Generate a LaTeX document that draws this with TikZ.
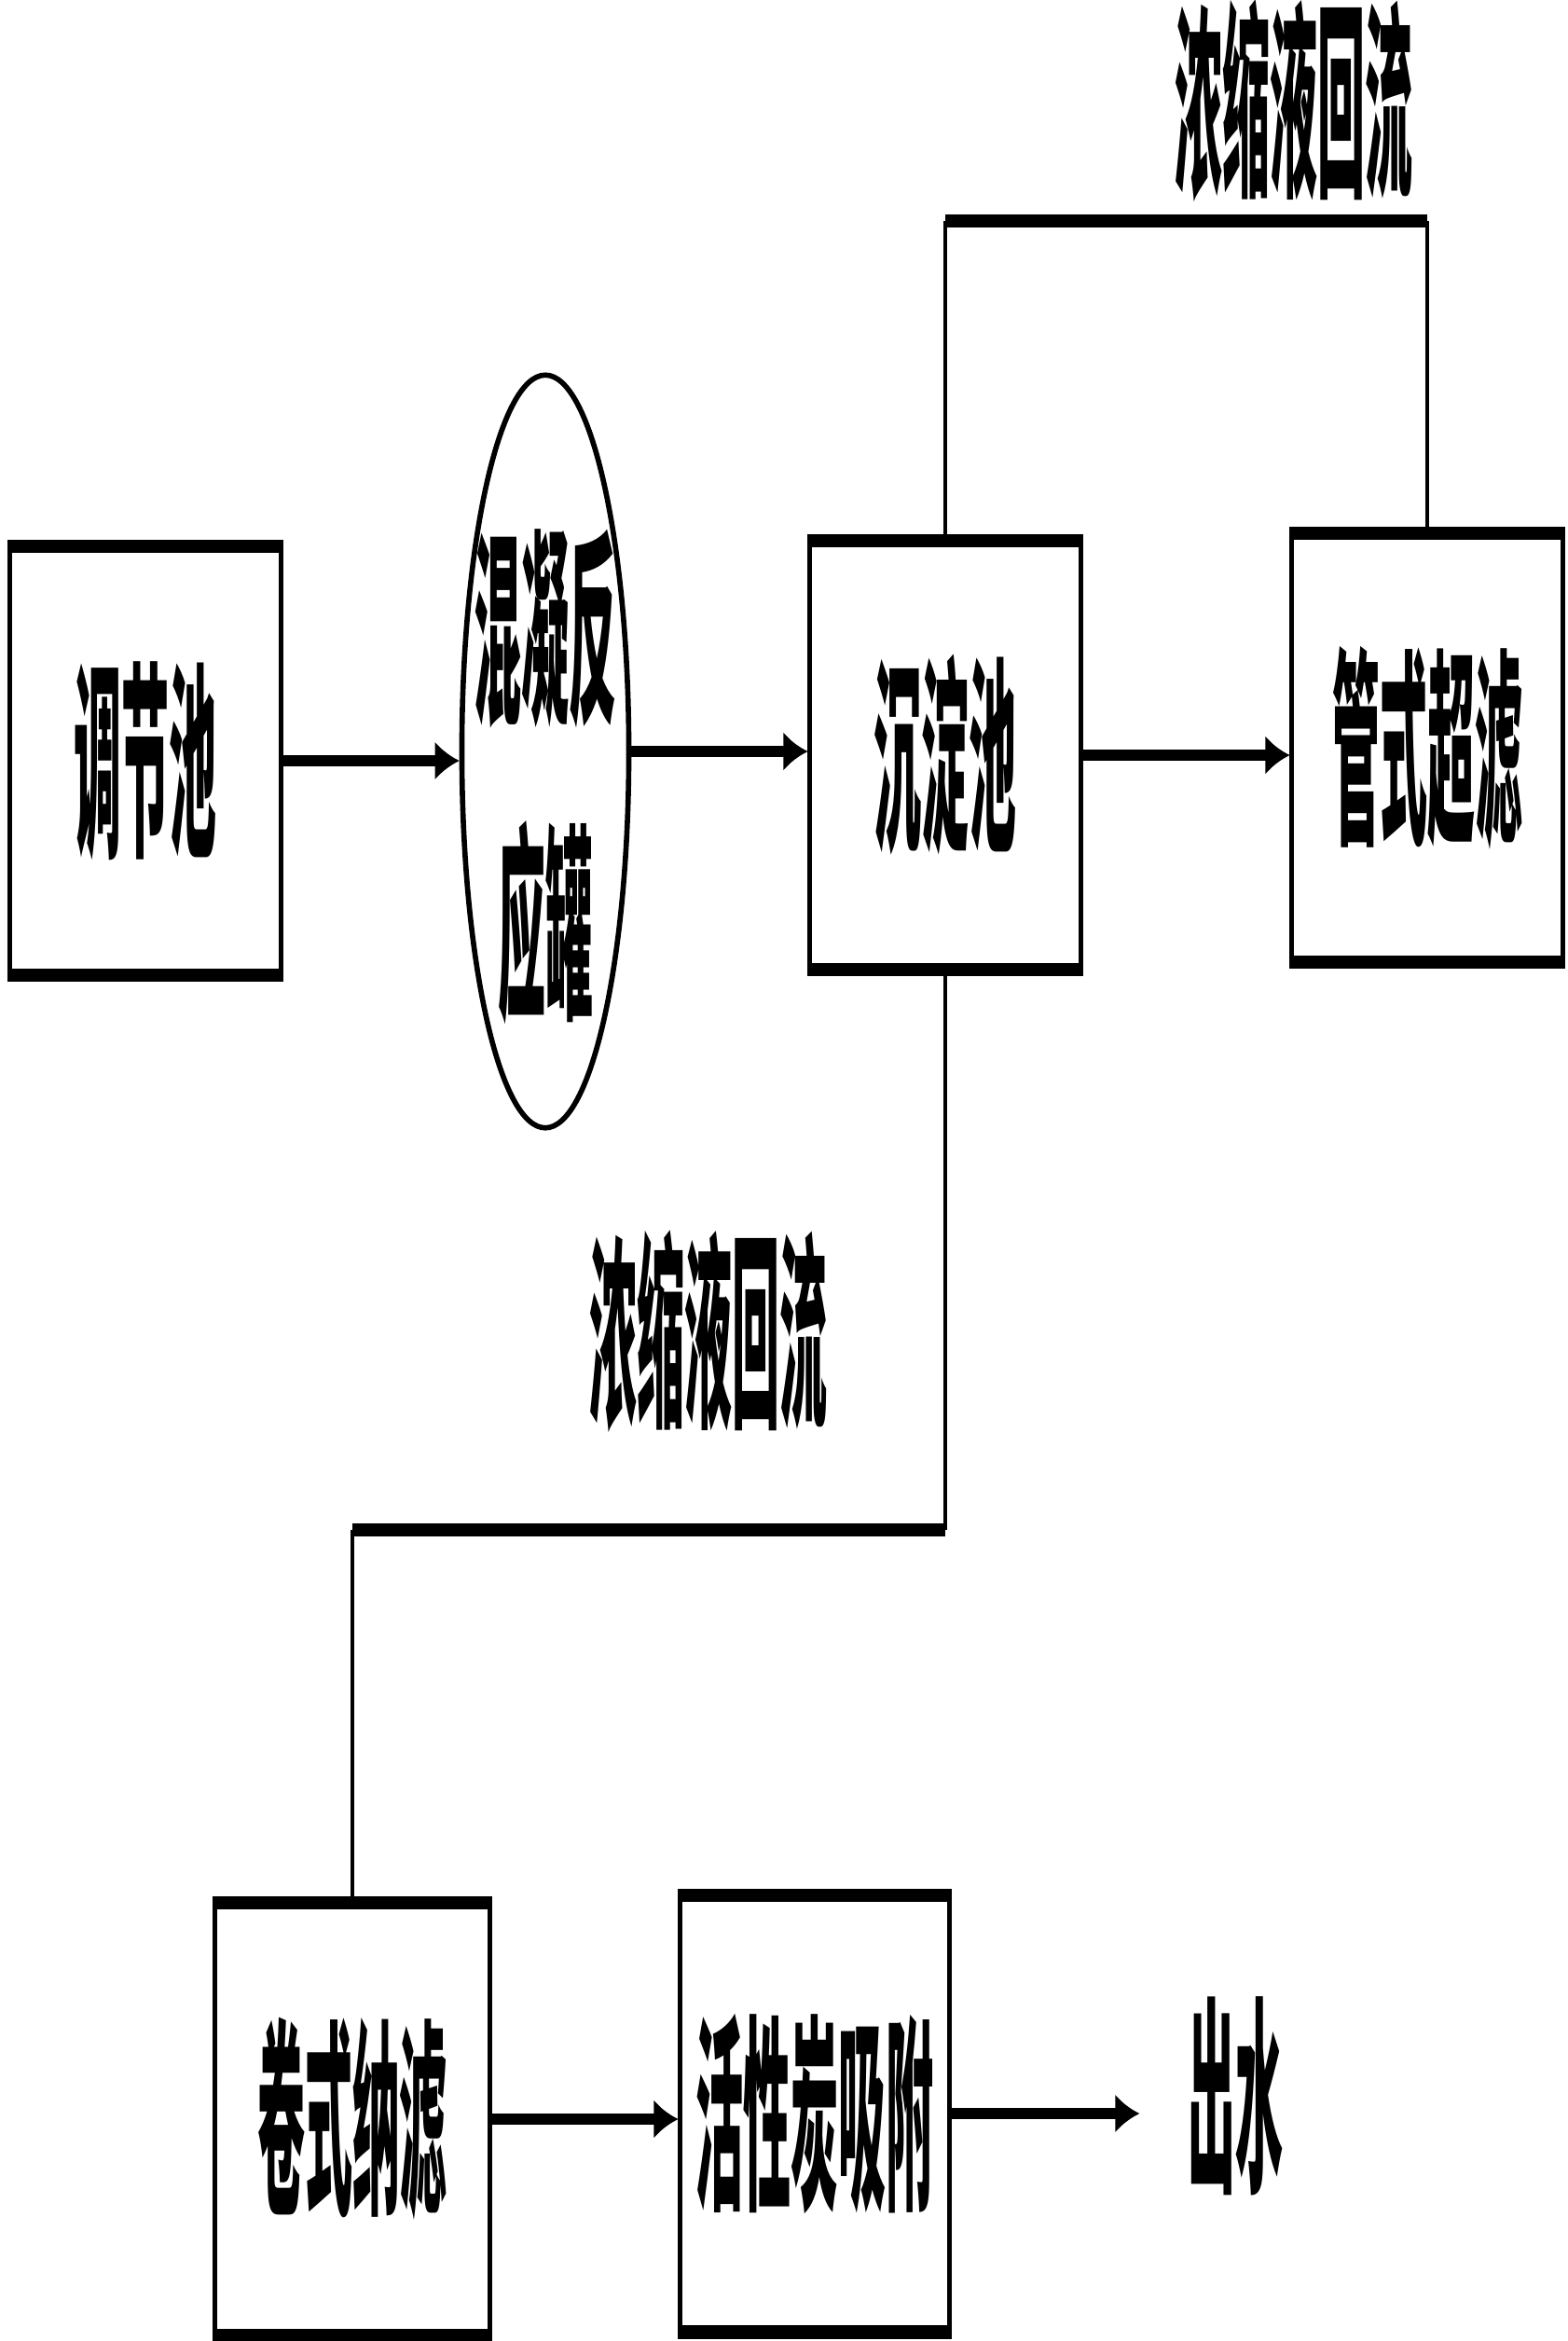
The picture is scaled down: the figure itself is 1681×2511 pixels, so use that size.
\documentclass[tikz,border=0pt]{standalone}
\usepackage{fontspec}
\newfontfamily\cjk{Noto Sans CJK SC}
\usetikzlibrary{arrows.meta,shapes.geometric,calc,positioning}
\newcommand{\tall}[1]{\scalebox{1}[4.4]{#1}}

\begin{document}
\begin{tikzpicture}[x=0.01cm, y=-0.01cm, >={Latex[length=2.6mm,width=4.2mm]},
block/.style = {draw, rectangle, line width=1.4pt, minimum width=2.9cm, minimum height=4.55cm,
                inner sep=0pt, align=center, font=\cjk\bfseries\fontsize{14.5pt}{14.5pt}\selectfont},
eblock/.style = {draw, ellipse, line width=1.6pt, minimum width=1.79cm, minimum height=8.07cm,
                inner sep=0pt, font=\cjk\bfseries\fontsize{14.5pt}{14.5pt}\selectfont},
lbl/.style = {inner sep=0pt, font=\cjk\bfseries\fontsize{14.5pt}{14.5pt}\selectfont},
rule/.style = {line width=4.2pt},
pipe/.style = {line width=1.3pt},
flow/.style = {line width=3.6pt},
                    ]
    \useasboundingbox (0,0) rectangle (1681,2511);
    \node [block]                    at (156,816)   (tank){\tall{调节池}};
    \node [eblock]                   at (585,806)   (coag){\makebox[0pt]{\raisebox{-0.4cm}[0pt][0pt]{%
        \begin{tabular}{@{}c@{}}\tall{混凝反}\\[1.05cm]\tall{应罐}\end{tabular}}}};
    \node [block]                    at (1014,810)  (settle){\tall{沉淀池}};
    \node [block]                    at (1531,802)  (uf){\tall{管式超滤}};
    \node [block, minimum width=2.95cm, minimum height=4.59cm] at (378,2273) (nf){\tall{卷式纳滤}};
    \node [block, minimum width=2.88cm, minimum height=4.63cm] at (874,2267) (carbon){\tall{活性炭吸附}};
    \node [lbl]                      at (1325,2248) (outlet){\tall{出水}};
    \node [lbl]                      at (1388,108)  (reflux1){\tall{浓缩液回流}};
    \node [lbl]                      at (760,1428)  (reflux2){\tall{浓缩液回流}};
    \coordinate (topbend) at (0,237);
    \coordinate (botbend) at (0,1641);
    % heavy top and bottom edges of the boxes
    \path[draw, rule]
                   (tank.north west) -- (tank.north east)   (tank.south west) -- (tank.south east)
                   (settle.north west) -- (settle.north east) (settle.south west) -- (settle.south east)
                   (uf.north west) -- (uf.north east)       (uf.south west) -- (uf.south east)
                   (nf.north west) -- (nf.north east)       (nf.south west) -- (nf.south east)
                   (carbon.north west) -- (carbon.north east) (carbon.south west) -- (carbon.south east)
                    ;
    \draw[flow,->] (tank.east)   -- (tank.east -| coag.west);
    \draw[flow,->] (coag.east)   -- (coag.east -| settle.west);
    \draw[flow,->] (settle.east) -- (settle.east -| uf.west);
    \draw[flow,->] (nf.east)     -- (nf.east -| carbon.west);
    \draw[flow,->,shorten >=0.51cm] (carbon.east) -- (carbon.east -| outlet.west);
    % reflux lines
    \draw[pipe] (settle.north) -- (settle.north |- topbend);
    \draw[pipe] (uf.north)     -- (uf.north |- topbend);
    \draw[rule] (settle.north |- topbend) -- (uf.north |- topbend);
    \draw[pipe] (settle.south) -- (settle.south |- botbend);
    \draw[rule] (settle.south |- botbend) -- (nf.north |- botbend);
    \draw[pipe] (nf.north |- botbend) -- (nf.north);
\end{tikzpicture}
\end{document}
